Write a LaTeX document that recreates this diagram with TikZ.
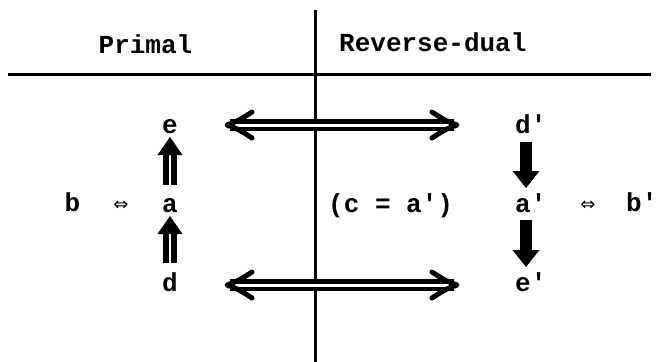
\documentclass[tikz,border=0pt]{standalone}
\usepackage{fontspec}
\setmainfont{Liberation Mono}[Ligatures=TeXOff]
\newfontfamily\symfont{DejaVu Sans}
\usetikzlibrary{arrows.meta}
\begin{document}
\begin{tikzpicture}[x=1pt,y=-1pt,
  txt/.style={inner sep=0pt, font=\fontsize{26}{30}\selectfont\bfseries},
  iff/.style={inner sep=0pt, font=\symfont\fontsize{18}{20}\selectfont},
  rulel/.style={line width=3pt},
  dblline/.style={double, double distance=3pt, line width=4.5pt, shorten <=3pt, shorten >=3pt},
  chev/.style={line width=5pt, line cap=round, line join=round},
  uparr/.style={double, double distance=1.2pt, line width=6pt, -{Triangle[width=25pt,length=18pt,line width=0pt]}},
  dnarr/.style={line width=12pt, -{Triangle[width=27pt,length=17pt,line width=0pt]}}]
\useasboundingbox (0,0) rectangle (657,362);
\fill[white] (0,0) rectangle (657,362);
% frame
\coordinate (hl) at (8,74);
\coordinate (hr) at (651,74);
\coordinate (vt) at (315,10);
\coordinate (vb) at (315,362);
\draw[rulel] (hl) -- (hr);
\draw[rulel] (vt) -- (vb);
% headings
\node[txt, anchor=base] (prim) at (145.5,53) {Primal};
\node[txt, anchor=base west] (rev) at (339,51) {Reverse-dual};
% left column
\node[txt, anchor=base] (e) at (170,133) {e};
\node[txt, anchor=base] (a) at (170,212) {a};
\node[txt, anchor=base] (d) at (170,291) {d};
\node[txt, anchor=base] (b) at (72.5,211) {b};
\node[iff] (i1) at (121,206) {⇔};
% middle
\node[txt, anchor=base west] (c) at (328,212) {(c = a')};
% right column
\node[txt, anchor=base west] (dp) at (515,133) {d'};
\node[txt, anchor=base west] (ap) at (515,212) {a'};
\node[txt, anchor=base west] (ep) at (515,291) {e'};
\node[iff] (i2) at (588,206) {⇔};
\node[txt, anchor=base west] (bp) at (626,211) {b'};
% horizontal double arrows
\coordinate (tL) at (227,125);
\coordinate (tR) at (457,125);
\coordinate (bL) at (227,285);
\coordinate (bR) at (457,285);
\draw[dblline] (tL) -- (tR);
\draw[dblline] (bL) -- (bR);
\draw[chev, shift={(tL)}] (25,-13) .. controls (11,-4) .. (0,0) .. controls (11,4) .. (25,13);
\draw[chev, shift={(tR)}] (-25,-13) .. controls (-11,-4) .. (0,0) .. controls (-11,4) .. (-25,13);
\draw[chev, shift={(bL)}] (25,-13) .. controls (11,-4) .. (0,0) .. controls (11,4) .. (25,13);
\draw[chev, shift={(bR)}] (-25,-13) .. controls (-11,-4) .. (0,0) .. controls (-11,4) .. (-25,13);
% vertical arrows
\draw[uparr, shorten <=27pt, shorten >=4pt] (a.base) -- (e.base);
\draw[uparr, shorten <=28pt, shorten >=4pt] (d.base) -- (a.base);
\draw[dnarr, shorten <=9pt, shorten >=24pt] ([xshift=11pt]dp.base west) -- ([xshift=11pt]ap.base west);
\draw[dnarr, shorten <=8pt, shorten >=24pt] ([xshift=11pt]ap.base west) -- ([xshift=11pt]ep.base west);
\end{tikzpicture}
\end{document}
